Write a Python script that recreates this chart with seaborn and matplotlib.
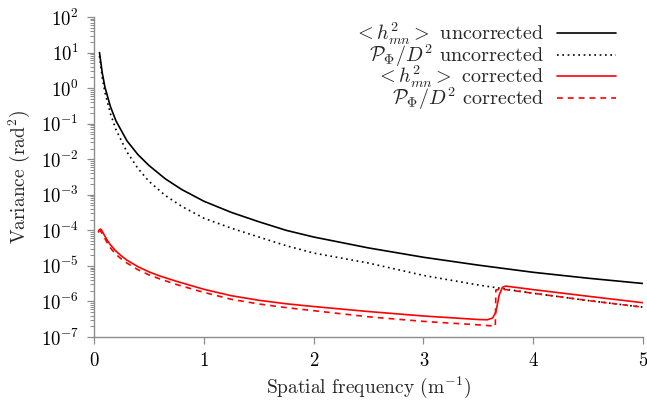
import numpy as np
import pandas as pd
import matplotlib
matplotlib.use("Agg")
import matplotlib.pyplot as plt
import seaborn as sns
from matplotlib.ticker import LogLocator, NullFormatter

# ---------------- data ----------------
x_black = [0.05, 0.075, 0.1, 0.15, 0.2, 0.3, 0.4, 0.5, 0.65, 0.8, 1.0, 1.25,
           1.5, 1.75, 2.0, 2.5, 3.0, 3.5, 4.0, 4.5, 5.0]
h2_uncorr = [10.0, 2.7, 1.05, 0.30, 0.12, 0.033, 0.0135, 0.0067, 0.0028, 0.0014,
             6.6e-4, 3.2e-4, 1.75e-4, 1.0e-4, 6.5e-5, 3.2e-5, 1.75e-5, 1.05e-5,
             6.6e-6, 4.5e-6, 3.2e-6]
psd_uncorr = [8.0, 2.0, 0.75, 0.19, 0.068, 0.016, 0.0055, 0.0024, 9.5e-4, 4.7e-4,
              2.2e-4, 1.15e-4, 6.5e-5, 3.7e-5, 2.3e-5, 1.2e-5, 5.4e-6, 2.9e-6,
              1.7e-6, 1.06e-6, 6.9e-7]

x_red = [0.04, 0.05, 0.06, 0.07, 0.08, 0.1, 0.125, 0.15, 0.2, 0.25, 0.3, 0.4,
         0.5, 0.6, 0.75, 1.0, 1.25, 1.5, 1.75, 2.0, 2.5, 3.0, 3.3, 3.5, 3.58,
         3.63, 3.66, 3.69, 3.72, 3.75, 4.0, 4.5, 5.0]
h2_corr = [9.0e-5, 1.05e-4, 1.08e-4, 1.0e-4, 8.8e-5, 6.8e-5, 5.0e-5, 3.9e-5,
           2.6e-5, 1.9e-5, 1.45e-5, 9.5e-6, 6.8e-6, 5.2e-6, 3.7e-6, 2.2e-6,
           1.45e-6, 1.08e-6, 8.6e-7, 7.2e-7, 5.2e-7, 3.9e-7, 3.4e-7, 3.1e-7,
           3.05e-7, 3.4e-7, 5.0e-7, 1.5e-6, 2.5e-6, 2.7e-6, 2.15e-6, 1.4e-6, 9.2e-7]

x_red_dash = [0.04, 0.05, 0.06, 0.07, 0.08, 0.1, 0.125, 0.15, 0.2, 0.25, 0.3,
              0.4, 0.5, 0.6, 0.75, 1.0, 1.25, 1.5, 1.75, 2.0, 2.5, 3.0, 3.3,
              3.5, 3.58, 3.63, 3.655, 3.66, 3.7, 3.75, 4.0, 4.5, 5.0]
psd_corr = [9.5e-5, 1.0e-4, 9.5e-5, 8.5e-5, 7.6e-5, 5.8e-5, 4.2e-5, 3.2e-5,
            2.1e-5, 1.55e-5, 1.2e-5, 7.8e-6, 5.6e-6, 4.3e-6, 3.0e-6, 1.8e-6,
            1.15e-6, 8.5e-7, 6.7e-7, 5.5e-7, 3.7e-7, 2.75e-7, 2.4e-7, 2.2e-7,
            2.1e-7, 2.05e-7, 2.0e-7, 2.1e-6, 2.2e-6, 2.15e-6, 1.7e-6, 1.06e-6, 6.9e-7]

labels = [r"$<h^2_{mn}>$ uncorrected",
          r"$\mathcal{P}_\Phi/D^2$ uncorrected",
          r"$<h^2_{mn}>$ corrected",
          r"$\mathcal{P}_\Phi/D^2$ corrected"]
x_ticks = [0, 1, 2, 3, 4, 5]

# ---------------- style ----------------
sns.set_theme(style="ticks")
plt.rcParams.update({
    "font.family": "serif",
    "font.serif": ["cmr10", "DejaVu Serif"],
    "mathtext.fontset": "cm",
    "axes.formatter.use_mathtext": True,
    "axes.unicode_minus": False,
})

fig = plt.figure(figsize=(6.47, 4.01), dpi=100)
ax = fig.add_axes([94 / 647, 1 - 337 / 401, (643 - 94) / 647, (337 - 17) / 401])

series = [
    (x_black, h2_uncorr, "black", "-", labels[0]),
    (x_black, psd_uncorr, "black", (0, (1, 2.2)), labels[1]),
    (x_red, h2_corr, "#ff0000", "-", labels[2]),
    (x_red_dash, psd_corr, "#ff0000", (0, (3.5, 3)), labels[3]),
]
for xs, ys, col, ls, lab in series:
    df = pd.DataFrame({"x": xs, "y": ys})
    sns.lineplot(data=df, x="x", y="y", ax=ax, color=col, linestyle=ls,
                 linewidth=1.2, label=lab, sort=False, estimator=None)

ax.set_yscale("log")
ax.set_xlim(0, 5)
ax.set_ylim(1e-7, 1e2)
ax.set_xticks(x_ticks)
ax.set_xticklabels([str(t) for t in x_ticks])
ax.yaxis.set_major_locator(LogLocator(base=10, numticks=20))
ax.yaxis.set_minor_locator(LogLocator(base=10, subs=np.arange(2, 10), numticks=20))
ax.yaxis.set_minor_formatter(NullFormatter())

for s in ["top", "right"]:
    ax.spines[s].set_visible(False)
for s in ["left", "bottom"]:
    ax.spines[s].set_color("#8c8c8c")
    ax.spines[s].set_linewidth(1.0)
ax.tick_params(axis="both", which="major", color="#8c8c8c", length=5, width=0.9,
               labelsize=13.5, labelcolor="black", pad=6)
ax.tick_params(axis="y", which="minor", color="#8c8c8c", length=3, width=0.7)

ax.set_xlabel(r"Spatial frequency (m$^{-1}$)", fontsize=14, labelpad=3)
ax.set_ylabel(r"Variance (rad$^2$)", fontsize=14, labelpad=6)

leg = ax.legend(loc="upper right", bbox_to_anchor=(0.965, 1.015), frameon=False,
                markerfirst=False, fontsize=14.5, handlelength=2.9,
                labelspacing=-0.24, handletextpad=0.65, borderaxespad=0.0)
for t in leg.get_texts():
    t.set_ha("right")
leg._legend_box.align = "right"

fig.savefig("out.png", dpi=100)
